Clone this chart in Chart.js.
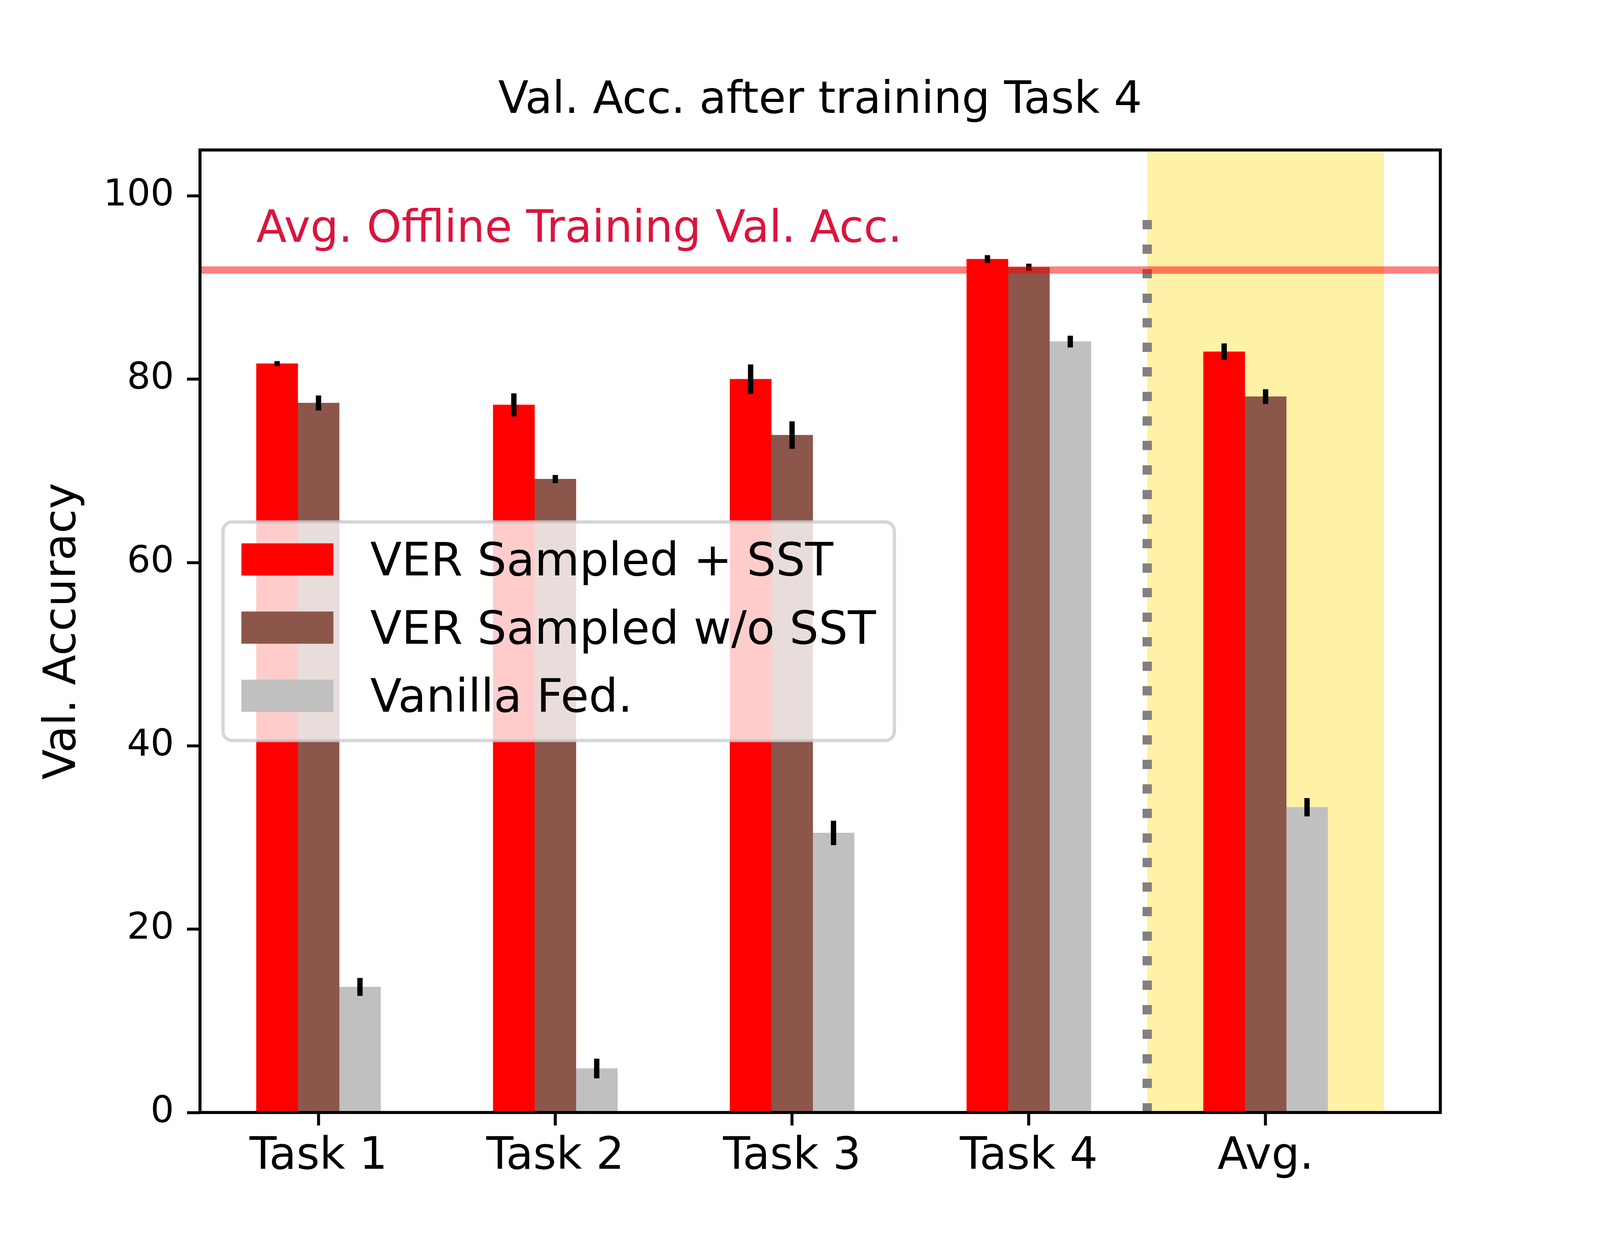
<!DOCTYPE html>
<html>
<head>
<meta charset="utf-8">
<title>Val. Acc. after training Task 4</title>
<script src="https://cdn.jsdelivr.net/npm/chart.js@4.4.1/dist/chart.umd.min.js"></script>
<style>
  html, body { margin: 0; padding: 0; background: #fff; overflow: hidden; }
  #wrap { position: relative; }
</style>
</head>
<body>
<div id="wrap"><canvas id="accChart"></canvas></div>
<script>
// values
const categories = ['Task 1', 'Task 2', 'Task 3', 'Task 4', 'Avg.'];
const verSst = [81.7, 77.2, 80.0, 93.1, 83.0];
const verSstErr = [0.27, 1.26, 1.6, 0.43, 0.9];
const verNoSst = [77.4, 69.1, 73.9, 92.2, 78.1];
const verNoSstErr = [0.82, 0.45, 1.5, 0.4, 0.8];
const vanilla = [13.7, 4.8, 30.5, 84.1, 33.3];
const vanillaErr = [0.98, 1.07, 1.33, 0.64, 1.0];
const offlineAcc = 91.9;
const yTicks = [0, 20, 40, 60, 80, 100];

const FONT = 'DejaVu Sans';
const barWidth = 0.175;
const offsets = [-barWidth, 0, barWidth];
const avgSpan = [3.5, 4.5];
const separatorTop = 98.4;

const series = [
  { label: 'VER Sampled + SST', values: verSst, errs: verSstErr, color: '#ff0000' },
  { label: 'VER Sampled w/o SST', values: verNoSst, errs: verNoSstErr, color: '#8c564b' },
  { label: 'Vanilla Fed.', values: vanilla, errs: vanillaErr, color: '#c0c0c0' }
];

// sizes below are measured on a 4800x3200 figure, scale them to the window
const W = window.innerWidth || 4800;
const H = window.innerHeight || 3200;
const sx = W / 4800, sy = H / 3200, s = Math.min(sx, sy);
const wrap = document.getElementById('wrap');
wrap.style.width = W + 'px';
wrap.style.height = H + 'px';

Chart.defaults.font.family = FONT;

const overlays = {
  id: 'overlays',
  beforeDatasetsDraw(chart) {
    const { ctx, chartArea: a, scales: { x, y } } = chart;
    ctx.save();
    ctx.beginPath();
    ctx.rect(a.left, a.top, a.width, a.height);
    ctx.clip();
    const x0 = x.getPixelForValue(avgSpan[0]);
    const x1 = x.getPixelForValue(avgSpan[1]);
    ctx.fillStyle = 'rgba(255, 215, 0, 0.35)';
    ctx.fillRect(x0, a.top, x1 - x0, a.height);
    // dotted separator before the average group
    ctx.strokeStyle = '#808080';
    ctx.lineWidth = 27.8 * s;
    ctx.lineCap = 'butt';
    ctx.setLineDash([27.8 * s, 45.8 * s]);
    ctx.beginPath();
    ctx.moveTo(x0, y.getPixelForValue(0));
    ctx.lineTo(x0, y.getPixelForValue(separatorTop));
    ctx.stroke();
    ctx.restore();
  },
  afterDatasetsDraw(chart) {
    const { ctx, chartArea: a, scales: { x, y } } = chart;
    ctx.save();

    // error bars
    ctx.strokeStyle = '#000';
    ctx.lineWidth = 16 * s;
    ctx.lineCap = 'butt';
    series.forEach((ser, k) => {
      ser.values.forEach((v, i) => {
        const px = x.getPixelForValue(i + offsets[k]);
        ctx.beginPath();
        ctx.moveTo(px, y.getPixelForValue(v - ser.errs[i]));
        ctx.lineTo(px, y.getPixelForValue(v + ser.errs[i]));
        ctx.stroke();
      });
    });

    // offline reference line
    const hy = y.getPixelForValue(offlineAcc);
    ctx.strokeStyle = 'rgba(255, 0, 0, 0.5)';
    ctx.lineWidth = 22 * s;
    ctx.beginPath();
    ctx.moveTo(a.left, hy);
    ctx.lineTo(a.right, hy);
    ctx.stroke();

    ctx.fillStyle = '#dc143c';
    ctx.font = (133 * s) + 'px "' + FONT + '"';
    ctx.textAlign = 'left';
    ctx.textBaseline = 'alphabetic';
    ctx.fillText('Avg. Offline Training Val. Acc.', x.getPixelForValue(-0.2625), y.getPixelForValue(95));

    // axes frame
    ctx.strokeStyle = '#000';
    ctx.lineWidth = 9 * s;
    ctx.lineJoin = 'miter';
    ctx.strokeRect(a.left, a.top, a.width, a.height);

    // legend, centre left
    const f = 138 * s;
    ctx.font = f + 'px "' + FONT + '"';
    const textW = Math.max(...series.map(ser => ctx.measureText(ser.label).width));
    const boxW = 3.6 * f + textW;
    const boxH = 4.75 * f;
    const rowStep = 1.482 * f;
    const bx = a.left + 0.5 * f;
    const by = (a.top + a.bottom) / 2 - boxH / 2;
    ctx.beginPath();
    if (ctx.roundRect) ctx.roundRect(bx, by, boxW, boxH, 0.2 * f);
    else ctx.rect(bx, by, boxW, boxH);
    ctx.fillStyle = 'rgba(255, 255, 255, 0.8)';
    ctx.fill();
    ctx.strokeStyle = 'rgba(204, 204, 204, 0.8)';
    ctx.lineWidth = 10 * s;
    ctx.stroke();
    series.forEach((ser, k) => {
      const hTop = by + 0.464 * f + k * rowStep;
      ctx.fillStyle = ser.color;
      ctx.fillRect(bx + 0.4 * f, hTop, 2 * f, 0.7 * f);
      ctx.fillStyle = '#000';
      ctx.fillText(ser.label, bx + 3.2 * f, hTop + 0.7 * f);
    });
    ctx.restore();
  }
};

const ctx = document.getElementById('accChart').getContext('2d');
const accChart = new Chart(ctx, {
  type: 'bar',
  data: {
    datasets: series.map((ser, k) => ({
      label: ser.label,
      data: ser.values.map((v, i) => ({ x: i + offsets[k], y: v })),
      backgroundColor: ser.color,
      borderWidth: 0,
      grouped: false,
      categoryPercentage: 1,
      barPercentage: 1
    }))
  },
  options: {
    responsive: true,
    maintainAspectRatio: false,
    animation: false,
    layout: { padding: { left: 0, right: 479 * sx, top: 0, bottom: 0 } },
    plugins: {
      legend: { display: false },
      tooltip: { enabled: false },
      title: {
        display: true,
        fullSize: false,
        text: 'Val. Acc. after training Task 4',
        color: '#000',
        font: { size: 133 * s, weight: 'normal' },
        padding: { top: 191 * sy, bottom: 384 * sy - 191 * sy - 159.6 * s }
      }
    },
    scales: {
      x: {
        type: 'linear',
        min: -0.5006,
        max: 4.738,
        offset: false,
        grid: { drawOnChartArea: false, offset: false, tickLength: 39 * s, tickWidth: 9 * s, tickColor: '#000' },
        border: { display: false },
        afterBuildTicks: sc => { sc.ticks = categories.map((c, i) => ({ value: i })); },
        ticks: {
          callback: (v, i) => categories[i],
          color: '#000',
          font: { size: 133 * s },
          padding: 15 * s,
          maxRotation: 0,
          autoSkip: false
        },
        afterFit: sc => { sc.height = 352 * sy; }
      },
      y: {
        type: 'linear',
        min: 0,
        max: 105,
        grid: { drawOnChartArea: false, tickLength: 39 * s, tickWidth: 9 * s, tickColor: '#000' },
        border: { display: false },
        afterBuildTicks: sc => { sc.ticks = yTicks.map(v => ({ value: v })); },
        ticks: { color: '#000', font: { size: 111 * s }, padding: 39 * s },
        title: {
          display: true,
          text: 'Val. Accuracy',
          color: '#000',
          font: { size: 133 * s },
          padding: { top: 191 * sx - 79.8 * s, bottom: 0 }
        },
        afterFit: sc => { sc.width = 600 * sx; }
      }
    }
  },
  plugins: [overlays]
});
</script>
</body>
</html>
